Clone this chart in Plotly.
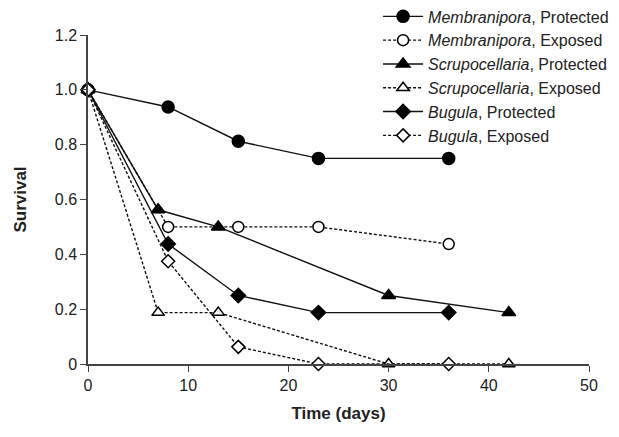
import plotly.graph_objects as go

days_a = [0, 8, 15, 23, 36]      # Membranipora, Bugula
days_b = [0, 7, 13, 30, 42]      # Scrupocellaria

memb_prot = [1.0, 0.9375, 0.8125, 0.75, 0.75]
memb_exp = [1.0, 0.5, 0.5, 0.5, 0.4375]
scru_prot = [1.0, 0.5625, 0.5, 0.25, 0.1875]
scru_exp = [1.0, 0.1875, 0.1875, 0.0, 0.0]
bugu_prot = [1.0, 0.4375, 0.25, 0.1875, 0.1875]
bugu_exp = [1.0, 0.375, 0.0625, 0.0, 0.0]

names = ["<i>Membranipora</i>, Protected", "<i>Membranipora</i>, Exposed",
         "<i>Scrupocellaria</i>, Protected", "<i>Scrupocellaria</i>, Exposed",
         "<i>Bugula</i>, Protected", "<i>Bugula</i>, Exposed"]

x_ticks = [0, 10, 20, 30, 40, 50]
y_ticks = [0, 0.2, 0.4, 0.6, 0.8, 1.0, 1.2]
y_tick_text = ["0", "0.2", "0.4", "0.6", "0.8", "1.0", "1.2"]

series = [
    (days_a, memb_prot, "circle", "solid", 12, "#000000"),
    (days_a, memb_exp, "circle", "3px,2px", 11, "white"),
    (days_b, scru_prot, "triangle-up", "solid", 12, "#000000"),
    (days_b, scru_exp, "triangle-up", "3px,2px", 11, "white"),
    (days_a, bugu_prot, "diamond", "solid", 11, "#000000"),
    (days_a, bugu_exp, "diamond", "3px,2px", 10, "white"),
]

fig = go.Figure()
for (x, y, sym, dash, sz, fill), nm in zip(series, names):
    fig.add_trace(go.Scatter(
        x=x, y=y, name=nm, mode="lines+markers", cliponaxis=False,
        line=dict(color="#111111", width=1.4, dash=dash),
        marker=dict(symbol=sym, size=sz, color=fill,
                    line=dict(color="#000000", width=1.5)),
    ))

fig.update_layout(
    width=619, height=437,
    margin=dict(l=80, r=38, t=27, b=81, autoexpand=False),
    paper_bgcolor="white", plot_bgcolor="white",
    font=dict(family="Liberation Sans, Arial, sans-serif", size=16, color="#222222"),
    showlegend=True,
    legend=dict(x=0.579, y=1.108, xanchor="left", yanchor="top",
                bgcolor="rgba(0,0,0,0)", font=dict(size=16, color="#222222"),
                tracegroupgap=0, itemwidth=40),
)
fig.update_xaxes(range=[0, 50], tickvals=x_ticks, showgrid=False, zeroline=False,
                 showline=True, linecolor="#444444", linewidth=1.5,
                 ticks="outside", ticklen=6, tickcolor="#444444",
                 title=dict(text="<b>Time (days)</b>", font=dict(size=17), standoff=14))
fig.update_yaxes(range=[0, 1.2], tickvals=y_ticks, ticktext=y_tick_text, showgrid=False,
                 zeroline=False, showline=True, linecolor="#444444", linewidth=1.5,
                 ticks="outside", ticklen=6, tickcolor="#444444",
                 title=dict(text="<b>Survival</b>", font=dict(size=17), standoff=24))

fig.write_html("out.html")
